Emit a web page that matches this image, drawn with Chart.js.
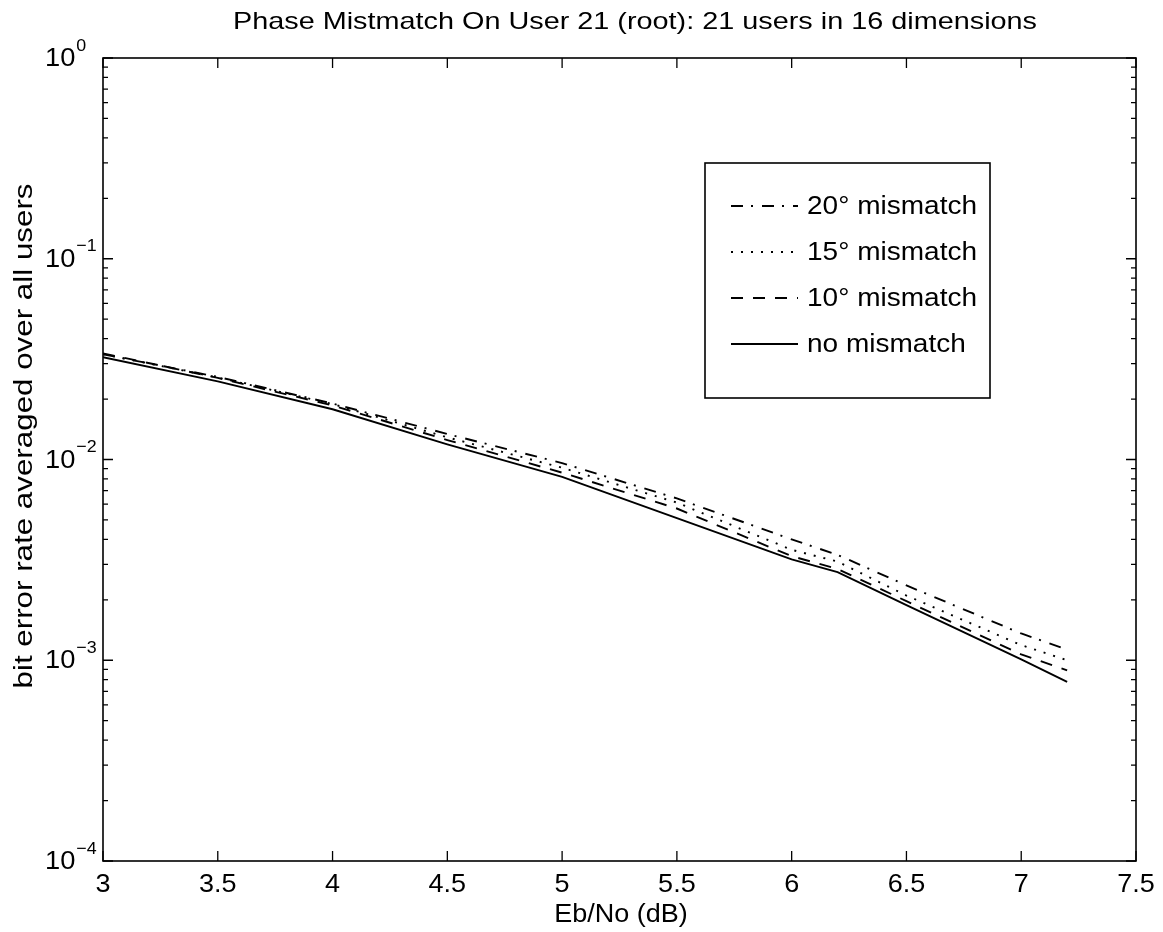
<!DOCTYPE html>
<html>
<head>
<meta charset="utf-8">
<script src="https://cdn.jsdelivr.net/npm/chart.js@4.4.1/dist/chart.umd.min.js"></script>
<style>
  body { margin: 0; background: #fff; }
  canvas { display: block; }
</style>
</head>
<body>
<canvas id="ber" width="1163" height="932"></canvas>
<script>
// Eb/No points (dB) and BER
const ebno    = [3, 3.5, 4, 4.5, 5, 5.5, 6, 6.2, 6.5, 7, 7.2];
const ber20   = [0.0334, 0.0258, 0.0190, 0.0134, 0.0096, 0.0064, 0.0040, 0.00335, 0.00236, 0.00136, 0.00113];
const ber15   = [0.0335, 0.0256, 0.0189, 0.0129, 0.0091, 0.0061, 0.00355, 0.0031, 0.0021, 0.00119, 0.00100];
const ber10   = [0.0338, 0.0255, 0.0186, 0.0125, 0.0086, 0.0057, 0.0033, 0.00285, 0.00197, 0.00107, 0.00089];
const berNone = [0.0323, 0.0245, 0.0178, 0.0119, 0.0082, 0.0051, 0.00318, 0.00275, 0.00188, 0.00101, 0.00078];

const labels = ['20\u00b0 mismatch', '15\u00b0 mismatch', '10\u00b0 mismatch', 'no mismatch'];
const xTicks = [3, 3.5, 4, 4.5, 5, 5.5, 6, 6.5, 7, 7.5];
const yDecades = [0, -1, -2, -3, -4];

const FONT = '"Liberation Sans", Arial, Helvetica, sans-serif';
const titleText = 'Phase Mistmatch On User 21 (root): 21 users in 16 dimensions';
const yTitle = 'bit error rate averaged over all users';
const xTitle = 'Eb/No (dB)';

function pts(ys) {
    return ebno.map((x, i) => ({ x: x, y: ys[i] }));
}

function lineSet(label, ys, dash) {
    return {
        label: label,
        data: pts(ys),
        borderColor: '#000',
        borderWidth: 1.9,
        borderDash: dash,
        pointRadius: 0,
        tension: 0,
        fill: false
    };
}

// the printed helvetica is wider than arial, so stretch text sideways
function wideText(c, text, x, y, size, sx, align) {
    c.save();
    c.font = size + 'px ' + FONT;
    const w = c.measureText(text).width * sx;
    let left = x;
    if (align === 'center') left = x - w / 2;
    if (align === 'right') left = x - w;
    c.translate(left, y);
    c.scale(sx, 1);
    c.textAlign = 'left';
    c.textBaseline = 'middle';
    c.fillText(text, 0, 0);
    c.restore();
    return w;
}

function fitScale(c, text, size, target) {
    c.font = size + 'px ' + FONT;
    return target / c.measureText(text).width;
}

// axes frame, inside ticks, superscript labels, titles, legend box
const matlabLook = {
    id: 'matlabLook',
    afterDraw(chart) {
        const c = chart.ctx;
        const a = chart.chartArea;
        const xs = chart.scales.x;
        const ys = chart.scales.y;
        c.save();
        c.strokeStyle = '#000';
        c.fillStyle = '#000';
        c.lineWidth = 1.6;
        c.setLineDash([]);
        c.strokeRect(a.left, a.top, a.right - a.left, a.bottom - a.top);

        // x ticks, inside, top and bottom, with labels
        c.lineWidth = 1.3;
        xTicks.forEach(v => {
            const px = xs.getPixelForValue(v);
            c.beginPath();
            c.moveTo(px, a.bottom); c.lineTo(px, a.bottom - 10);
            c.moveTo(px, a.top); c.lineTo(px, a.top + 10);
            c.stroke();
            wideText(c, String(v), px, a.bottom + 24, 25, 1.08, 'center');
        });

        // y ticks, major and minor, left and right
        yDecades.forEach(e => {
            const py = ys.getPixelForValue(Math.pow(10, e));
            c.beginPath();
            c.moveTo(a.left, py); c.lineTo(a.left + 10, py);
            c.moveTo(a.right, py); c.lineTo(a.right - 10, py);
            c.stroke();
            if (e > -4) {
                for (let k = 2; k <= 9; k++) {
                    const mp = ys.getPixelForValue(k * Math.pow(10, e - 1));
                    c.beginPath();
                    c.moveTo(a.left, mp); c.lineTo(a.left + 5, mp);
                    c.moveTo(a.right, mp); c.lineTo(a.right - 5, mp);
                    c.stroke();
                }
            }
            const exp = String(e).replace('-', '\u2212');
            const bw = wideText(c, '10', 45, py + 1, 26, 1.05, 'left');
            wideText(c, exp, 45 + bw + 1, py - 12, 17, 1.05, 'left');
        });

        // title
        const tsx = fitScale(c, titleText, 24, 804);
        wideText(c, titleText, 635, 22, 24, tsx, 'center');

        // x title
        wideText(c, xTitle, 621, 915, 25, 1.08, 'center');

        // y title
        c.save();
        c.translate(25, 436);
        c.rotate(-Math.PI / 2);
        const ysx = fitScale(c, yTitle, 25, 505);
        wideText(c, yTitle, 0, 0, 25, ysx, 'center');
        c.restore();

        // legend
        const lx = 705, ly = 163, lw = 285, lh = 235;
        c.fillStyle = '#fff';
        c.fillRect(lx, ly, lw, lh);
        c.fillStyle = '#000';
        c.lineWidth = 1.6;
        c.strokeRect(lx, ly, lw, lh);
        const lsx = fitScale(c, labels[0], 25, 170);
        chart.data.datasets.forEach((ds, i) => {
            const yy = 206 + i * 46;
            c.lineWidth = ds.borderWidth;
            c.setLineDash(ds.borderDash || []);
            c.beginPath();
            c.moveTo(731, yy); c.lineTo(798, yy);
            c.stroke();
            c.setLineDash([]);
            wideText(c, ds.label, 807, yy + 1, 25, lsx, 'left');
        });
        c.restore();
    }
};

const chart = new Chart(document.getElementById('ber'), {
    type: 'line',
    data: {
        datasets: [
            lineSet(labels[0], ber20, [12, 8, 2, 9]),
            lineSet(labels[1], ber15, [2, 8]),
            lineSet(labels[2], ber10, [12, 10]),
            lineSet(labels[3], berNone, [])
        ]
    },
    options: {
        responsive: false,
        animation: false,
        layout: { padding: { top: 58, right: 27, left: 0, bottom: 0 } },
        plugins: {
            legend: { display: false },
            tooltip: { enabled: false }
        },
        scales: {
            x: {
                type: 'linear',
                min: 3,
                max: 7.5,
                grid: { display: false },
                border: { display: false },
                ticks: { display: false },
                afterFit(scale) { scale.height = 71; }
            },
            y: {
                type: 'logarithmic',
                min: 1e-4,
                max: 1,
                grid: { display: false },
                border: { display: false },
                ticks: { display: false },
                afterFit(scale) { scale.width = 103; }
            }
        }
    },
    plugins: [matlabLook]
});
</script>
</body>
</html>
